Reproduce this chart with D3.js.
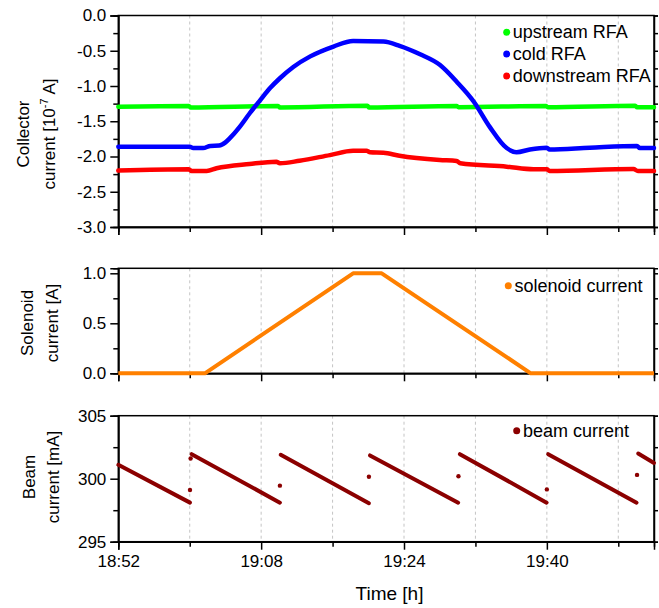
<!DOCTYPE html>
<html><head><meta charset="utf-8">
<script src="https://cdn.jsdelivr.net/npm/d3@7"></script>
<style>
body{margin:0;background:#fff}
text{font-family:"Liberation Sans",Arial,sans-serif;fill:#000}
</style>
</head><body>
<svg id="chart" width="659" height="608"></svg>
<script>
// ---- DATA (time in minutes after 18:52) ----
const xMajorMinutes = [0, 16, 32, 48];
const xMajorLabels  = ["18:52", "19:08", "19:24", "19:40"];
const xMinorMinutes = [8, 24, 40, 56];
const gridMinutes   = [8, 16, 24, 32, 40, 48, 56];

const collectorMajor = [0, -0.5, -1.0, -1.5, -2.0, -2.5, -3.0];
const collectorMinor = [-0.25, -0.75, -1.25, -1.75, -2.25, -2.75];
const solenoidMajor  = [0, 0.5, 1.0];
const solenoidMinor  = [0.25, 0.75];
const beamMajor      = [295, 300, 305];
const beamMinor      = [297.5, 302.5];

const upstreamRFA = [[0,-1.295],[7.9,-1.285],[8.1,-1.305],[17.9,-1.285],[18.1,-1.305],
  [27.9,-1.28],[28.1,-1.305],[37.9,-1.285],[38.1,-1.30],[47.9,-1.285],[48.1,-1.30],
  [57.9,-1.28],[58.1,-1.30],[60,-1.30]];

const coldRFA = [[0,-1.86],[8.0,-1.86],[8.4,-1.88],[9.5,-1.88],[10.3,-1.85],[11.3,-1.845],
  [12.0,-1.80],[12.5,-1.74],[13.6,-1.58],[14.7,-1.39],[15.9,-1.20],[17.0,-1.03],[18.1,-0.89],
  [19.6,-0.73],[21.5,-0.58],[24.1,-0.44],[26.3,-0.36],[29.7,-0.37],[31.5,-0.43],
  [33.8,-0.55],[36.0,-0.70],[37.9,-0.94],[39.8,-1.22],[41.6,-1.58],[43.5,-1.88],
  [44.6,-1.94],[46.1,-1.90],[48.0,-1.875],[48.3,-1.90],[52.8,-1.875],[58.1,-1.85],
  [58.4,-1.88],[60,-1.88]];

const downstreamRFA = [[0,-2.20],[7.9,-2.18],[8.2,-2.205],[9.9,-2.205],[11.0,-2.167],
  [14.7,-2.106],[17.7,-2.074],[18.1,-2.096],[20.3,-2.06],[23.7,-1.98],[26.3,-1.92],
  [27.8,-1.92],[28.2,-1.94],[29.7,-1.946],[31.5,-1.99],[36.0,-2.05],[37.9,-2.064],
  [38.3,-2.096],[43.5,-2.145],[46.5,-2.182],[48.0,-2.182],[48.3,-2.206],[57.7,-2.177],
  [58.2,-2.206],[60,-2.206]];

const solenoidCurrent = [[0,0],[9.7,0],[26.3,1.0],[29.5,1.0],[46.2,0],[60,0]];

const beamSegments = [
  [[0,301.1],[8.03,298.1]],
  [[8.22,301.95],[18.1,298.1]],
  [[18.19,301.9],[28.07,298.05]],
  [[28.19,301.85],[38.07,298.1]],
  [[38.26,301.95],[47.97,298.1]],
  [[48.15,301.95],[58.05,298.1]],
  [[58.23,302.0],[60,301.25]]
];
const beamDots = [[8.03,299.1],[8.1,301.6],[18.1,299.45],[28.07,300.15],[38.1,300.2],[48.0,299.15],[58.1,300.3]];

// ---- LAYOUT ----
const svg = d3.select("#chart");
const X0 = 118.3, X1 = 654;
const x = d3.scaleLinear().domain([0, 60]).range([X0, X1]);

const panels = [
  {domain:[-3,0], range:[227,15.5], major:collectorMajor, minor:collectorMinor, fmt:d=>d.toFixed(1),
   title:["Collector","current [10","-7"," A]"], tx:[29,54.5], ty:134},
  {domain:[0,1.05], range:[373.3,268.3], major:solenoidMajor, minor:solenoidMinor, fmt:d=>d.toFixed(1),
   title:["Solenoid","current [A]"], tx:[32.5,58], ty:323},
  {domain:[295,305], range:[541.7,415.7], major:beamMajor, minor:beamMinor, fmt:d=>String(d),
   title:["Beam","current [mA]"], tx:[35,58.5], ty:477}
];
panels.forEach(p => p.y = d3.scaleLinear().domain(p.domain).range(p.range));

function styleAxis(g){
  g.select(".domain").attr("stroke","#000").attr("stroke-width",1.5);
  g.selectAll(".tick line").attr("stroke","#000").attr("stroke-width",1.5);
  g.selectAll(".tick text").attr("font-size",17).attr("fill","#000")
    .attr("font-family",'"Liberation Sans",Arial,sans-serif');
}

panels.forEach((p,i) => {
  const [yb, yt] = p.range;
  // grid
  svg.append("g").selectAll("line").data(gridMinutes).join("line")
    .attr("x1",d=>x(d)).attr("x2",d=>x(d)).attr("y1",yt).attr("y2",yb)
    .attr("stroke","#c4c4c4").attr("stroke-width",1).attr("stroke-dasharray","3,3");

  // frame
  svg.append("rect").attr("x",X0).attr("y",yt).attr("width",X1-X0).attr("height",yb-yt)
    .attr("fill","none").attr("stroke","#000").attr("stroke-width",1.5);

  // left axis
  svg.append("g").attr("transform",`translate(${X0},0)`)
    .call(d3.axisLeft(p.y).tickValues(p.major).tickFormat(p.fmt).tickSize(8).tickPadding(4)).call(styleAxis);
  svg.append("g").attr("transform",`translate(${X0},0)`)
    .call(d3.axisLeft(p.y).tickValues(p.minor).tickFormat("").tickSize(5)).call(styleAxis);
  // right axis
  svg.append("g").attr("transform",`translate(${X1},0)`)
    .call(d3.axisRight(p.y).tickValues(p.major.concat(p.minor)).tickFormat("").tickSize(4)).call(styleAxis);

  // bottom axis
  const last = i === panels.length-1;
  svg.append("g").attr("transform",`translate(0,${yb})`)
    .call(d3.axisBottom(x).tickValues(xMajorMinutes)
      .tickFormat(last ? ((d,k)=>xMajorLabels[k]) : "").tickSize(8).tickPadding(5)).call(styleAxis);
  svg.append("g").attr("transform",`translate(0,${yb})`)
    .call(d3.axisBottom(x).tickValues(xMinorMinutes).tickFormat("").tickSize(5)).call(styleAxis);

  // y title
  svg.append("text").attr("transform",`translate(${p.tx[0]},${p.ty}) rotate(-90)`)
    .attr("text-anchor","middle").attr("font-size",17).text(p.title[0]);
  const t2 = svg.append("text").attr("transform",`translate(${p.tx[1]},${p.ty}) rotate(-90)`)
    .attr("text-anchor","middle").attr("font-size",17);
  if (p.title.length > 2) {
    t2.append("tspan").text(p.title[1]);
    t2.append("tspan").attr("font-size",11).attr("dy",-7).text(p.title[2]);
    t2.append("tspan").attr("dy",7).text(p.title[3]);
  } else {
    t2.text(p.title[1]);
  }
});

// x title
svg.append("text").attr("x",389.5).attr("y",600).attr("text-anchor","middle")
  .attr("font-size",19).text("Time [h]");

// ---- SERIES ----
const pTop = panels[0], pMid = panels[1], pBot = panels[2];
const lineTop = d3.line().curve(d3.curveMonotoneX).x(d=>x(d[0])).y(d=>pTop.y(d[1]));
const series = [
  {data:upstreamRFA, color:"#00ff00"},
  {data:downstreamRFA, color:"#ff0000"},
  {data:coldRFA, color:"#0000ff"}
];
series.forEach(s => {
  svg.append("path").datum(s.data).attr("d",lineTop).attr("fill","none")
    .attr("stroke",s.color).attr("stroke-width",4.5)
    .attr("stroke-linejoin","round").attr("stroke-linecap","round");
});

const lineMid = d3.line().x(d=>x(d[0])).y(d=>pMid.y(d[1]));
svg.append("path").datum(solenoidCurrent).attr("d",lineMid).attr("fill","none")
  .attr("stroke","#ff8000").attr("stroke-width",4).attr("stroke-linejoin","round");

const lineBot = d3.line().x(d=>x(d[0])).y(d=>pBot.y(d[1]));
svg.append("g").selectAll("path").data(beamSegments).join("path")
  .attr("d",lineBot).attr("fill","none").attr("stroke","#8b0000").attr("stroke-width",4)
  .attr("stroke-linecap","round");
svg.append("g").selectAll("circle").data(beamDots).join("circle")
  .attr("cx",d=>x(d[0])).attr("cy",d=>pBot.y(d[1])).attr("r",2.2).attr("fill","#8b0000");

// ---- LEGENDS ----
const legendTop = [
  {label:"upstream RFA", color:"#00ff00", y:32.3},
  {label:"cold RFA", color:"#0000ff", y:54},
  {label:"downstream RFA", color:"#ff0000", y:76}
];
legendTop.forEach(l => {
  svg.append("circle").attr("cx",506.7).attr("cy",l.y).attr("r",3.5).attr("fill",l.color);
  svg.append("text").attr("x",512.7).attr("y",l.y+6).attr("font-size",18).text(l.label);
});
svg.append("circle").attr("cx",508.3).attr("cy",285.7).attr("r",3.5).attr("fill","#ff8000");
svg.append("text").attr("x",514.5).attr("y",291.8).attr("font-size",18).text("solenoid current");
svg.append("circle").attr("cx",516.7).attr("cy",430.7).attr("r",3.5).attr("fill","#8b0000");
svg.append("text").attr("x",523).attr("y",436.8).attr("font-size",18).text("beam current");
</script>
</body></html>
